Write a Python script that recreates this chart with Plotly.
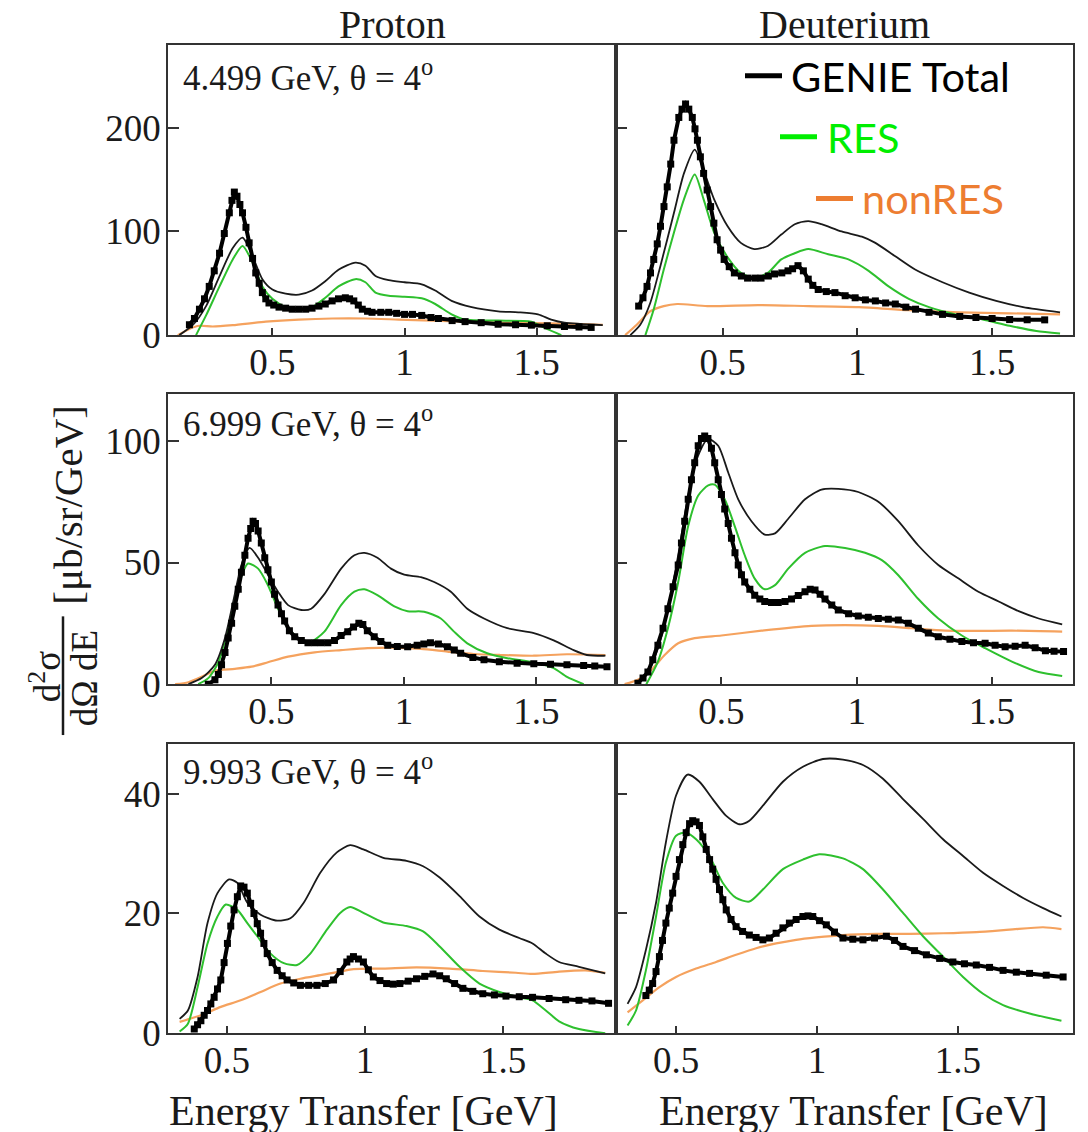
import plotly.graph_objects as go

# ---------------- data ----------------
# Row 1: 4.499 GeV
p1_data_E = [0.186,0.205,0.224,0.243,0.261,0.280,0.300,0.318,0.337,0.347,0.356,0.366,0.377,0.387,0.400,0.412,0.425,0.437,0.450,0.462,0.475,0.487,0.505,0.525,0.550,0.575,0.600,0.626,0.650,0.676,0.700,0.726,0.750,0.776,0.792,0.808,0.825,0.840,0.860,0.877,0.910,0.940,0.970,1.000,1.030,1.065,1.100,1.128,1.180,1.229,1.290,1.354,1.420,1.480,1.540,1.605,1.660,1.706]
p1_data_y = [10,16,25,35,47,62,79,98,118,130,138,134,126,118,104,89,74,60,50,41,35,31,29,27,26,25,25,25,26,28,30,33,35,36,35,33,29,25,23,22,22,22,21,20,20,19,17,16,14,13,12,10.5,10,9.6,9,8.3,7.8,7.4]
p1_tot_E = [0.148,0.200,0.249,0.300,0.350,0.387,0.425,0.462,0.500,0.550,0.600,0.650,0.700,0.750,0.814,0.852,0.890,0.940,1.000,1.065,1.116,1.178,1.254,1.354,1.430,1.505,1.555,1.605,1.750]
p1_tot_y = [0,10,28,57,84,94,76,54,44,40,39,43,52,63,70,67,57,53,51,49,43,33,27,23,22,20,15,12,9.6]
p1_res_E = [0.211,0.249,0.300,0.350,0.387,0.425,0.462,0.500,0.550,0.600,0.650,0.700,0.750,0.814,0.852,0.890,0.940,1.000,1.065,1.116,1.178,1.229,1.354,1.480,1.530,1.593]
p1_res_y = [0,19,47,73,86,70,47,35,27,25,27,36,47,54,51,41,38,37,35.5,30,20,15,14,13,7,0]
p1_non_E = [0.142,0.186,0.224,0.274,0.350,0.475,0.600,0.726,0.852,0.977,1.103,1.229,1.354,1.480,1.605,1.750]
p1_non_y = [0,6,9,8.3,9.6,13,15,16,16,15,14,13,12,11.5,11,10]

d1_data_E = [0.189,0.205,0.220,0.233,0.245,0.258,0.270,0.283,0.295,0.308,0.320,0.338,0.350,0.363,0.375,0.388,0.398,0.407,0.418,0.430,0.443,0.456,0.468,0.480,0.493,0.506,0.525,0.544,0.570,0.593,0.620,0.643,0.670,0.693,0.720,0.743,0.760,0.780,0.800,0.818,0.835,0.855,0.885,0.917,0.955,0.992,1.030,1.067,1.105,1.141,1.180,1.216,1.266,1.316,1.380,1.440,1.500,1.565,1.630,1.695]
d1_data_y = [28,36,47,60,73,88,105,124,143,165,188,210,218,223,218,210,199,188,172,156,140,124,108,92,82,73,66,60,57,55,55,55,57,59,60,62,64,67,62,54,48,44,42,41,38,36,34,33,31,30,27,25,22,20,18,17,16,15,14.8,14.7]
d1_tot_E = [0.158,0.195,0.232,0.270,0.320,0.357,0.397,0.430,0.469,0.519,0.568,0.618,0.668,0.718,0.768,0.818,0.867,0.942,1.017,1.067,1.141,1.216,1.316,1.415,1.515,1.615,1.752]
d1_tot_y = [0,10,31,67,118,156,179,159,131,105,89,83,86,97,107,110,107,100,95,89,76,63,51,41,33,27,22]
d1_res_E = [0.214,0.245,0.282,0.320,0.357,0.397,0.430,0.469,0.519,0.568,0.618,0.668,0.718,0.768,0.818,0.892,0.967,1.042,1.116,1.191,1.266,1.365,1.465,1.565,1.664,1.752]
d1_res_y = [0,25,63,99,131,155,131,99,75,60,55,60,73,79,83,78,73,62,47,35,27,20,15,9,4,1.6]
d1_non_E = [0.139,0.182,0.232,0.282,0.332,0.444,0.631,0.818,1.006,1.191,1.378,1.565,1.752]
d1_non_y = [0,10,23,28,30,28,29,28,27,24,22,21,20]

# Row 2: 6.999 GeV
p2_data_E = [0.262,0.287,0.300,0.312,0.325,0.337,0.350,0.362,0.375,0.387,0.400,0.412,0.422,0.431,0.440,0.450,0.462,0.475,0.487,0.500,0.512,0.525,0.538,0.550,0.568,0.588,0.613,0.638,0.663,0.688,0.713,0.738,0.763,0.788,0.810,0.830,0.845,0.862,0.888,0.913,0.939,0.975,1.014,1.050,1.075,1.100,1.130,1.164,1.190,1.214,1.260,1.302,1.360,1.427,1.490,1.553,1.615,1.678,1.720,1.766]
p2_data_y = [0,1.8,4,8,13,19,25,32,39,46,53,60,64,67,66,63,58,52,47,42,37,32.5,29,26,22,19.5,18,17,17,17,17,18,20,21.6,23.5,25,24.5,22,19.5,17.5,16,15.5,15.4,16,16.5,17,16.5,15.4,14,12.7,11,10,9.2,8.6,8.4,8.2,8,7.7,7.5,7.2]
p2_tot_E = [0.187,0.237,0.287,0.325,0.362,0.387,0.418,0.450,0.487,0.525,0.563,0.613,0.650,0.700,0.763,0.813,0.851,0.900,0.951,1.001,1.064,1.114,1.177,1.239,1.302,1.390,1.490,1.565,1.640,1.690,1.760]
p2_tot_y = [0,2.5,8,19,37,49,56,52,45,38,32.5,30.5,31,37,47.5,53,54,52,47.5,45,44,42,38,31,27,23,21,18,14,12,11.7]
p2_res_E = [0.224,0.262,0.300,0.337,0.375,0.412,0.450,0.487,0.525,0.563,0.613,0.650,0.700,0.763,0.813,0.851,0.900,0.964,1.014,1.076,1.139,1.189,1.239,1.314,1.390,1.490,1.565,1.615,1.678]
p2_res_y = [0,2.5,9,23,40.7,49.6,47.5,40.7,31,23,18,17.5,21.6,32.5,38,39,36.6,32,30,29.8,27,21.6,16.8,12.7,10.7,9,6.6,3,0]
p2_non_E = [0.137,0.187,0.237,0.287,0.362,0.425,0.487,0.563,0.663,0.763,0.863,0.964,1.064,1.164,1.264,1.364,1.490,1.615,1.760]
p2_non_y = [0,0.8,3,5.5,6.3,7.2,9,11.3,13.1,14,14.8,15,14.5,13.4,12.4,12,11.7,12.3,12]

d2_data_E = [0.191,0.210,0.228,0.246,0.265,0.284,0.302,0.321,0.340,0.352,0.364,0.377,0.389,0.401,0.414,0.426,0.438,0.450,0.463,0.475,0.488,0.500,0.512,0.525,0.537,0.550,0.562,0.574,0.586,0.605,0.623,0.642,0.660,0.685,0.710,0.735,0.759,0.784,0.809,0.828,0.846,0.865,0.883,0.908,0.932,0.970,1.006,1.043,1.080,1.117,1.154,1.191,1.228,1.265,1.302,1.345,1.389,1.432,1.475,1.512,1.549,1.586,1.623,1.660,1.698,1.730,1.765]
d2_data_y = [0.4,2.5,5,10,16,23,31,40,49,58,67,76,84,91,98,101,102,101,97,91,84,78,72,66,60,54,49,45,42,39,36.6,35,34,33.6,33.6,34,35,36.5,38,39,38.7,37,35,32.5,30.5,29,28,27.5,27,26.7,26.4,25,23,21,19.5,18.5,17.5,17,16.8,16,15.4,15.6,16,15,13.7,13.5,13.4]
d2_tot_E = [0.191,0.228,0.265,0.302,0.340,0.377,0.414,0.451,0.488,0.525,0.562,0.611,0.660,0.698,0.747,0.809,0.870,0.932,1.006,1.080,1.154,1.228,1.302,1.377,1.450,1.525,1.599,1.673,1.760]
d2_tot_y = [0,5,14.7,31,53,77.6,94,100.8,98,87,76,67,61.5,62,68,76,80,80.3,79,75,67,57,49,43.4,38,34,30,27,24.6]
d2_res_E = [0.222,0.265,0.302,0.340,0.377,0.414,0.451,0.475,0.512,0.549,0.586,0.623,0.660,0.698,0.747,0.809,0.883,0.957,1.031,1.093,1.154,1.228,1.302,1.389,1.475,1.574,1.673,1.760]
d2_res_y = [0,9.3,23,42,65,77.6,81.7,82,76,65,53,43.4,39,40.7,47.5,54,56.8,56,54,51,44.8,35,27,20,14.8,9.3,5,3.4]
d2_non_E = [0.142,0.191,0.241,0.290,0.340,0.401,0.500,0.648,0.833,0.957,1.080,1.204,1.327,1.450,1.574,1.760]
d2_non_y = [0,1.8,5.9,12,16.8,18.9,20,22,24,24.3,24,23,22,21.9,22,21.6]

# Row 3: 9.993 GeV
p3_data_E = [0.382,0.394,0.406,0.418,0.430,0.442,0.454,0.466,0.478,0.490,0.502,0.514,0.526,0.538,0.550,0.562,0.574,0.586,0.598,0.610,0.622,0.634,0.646,0.664,0.682,0.700,0.718,0.742,0.766,0.796,0.826,0.856,0.886,0.910,0.934,0.946,0.958,0.976,0.994,1.012,1.030,1.054,1.078,1.102,1.126,1.156,1.186,1.216,1.246,1.270,1.294,1.324,1.354,1.390,1.426,1.468,1.510,1.558,1.606,1.666,1.726,1.774,1.821,1.881]
p3_data_y = [0.7,1.4,2.1,3,3.8,4.9,6,7.4,8.9,11.8,15,17.9,20.6,22.8,24.6,24.4,23.4,21.7,20,18.3,16.7,15,13.3,11.8,10.5,9.6,8.9,8.4,8,8,8,8.3,8.9,10.3,11.9,12.4,12.8,12.4,11.9,10.6,9.4,8.8,8.3,8.2,8.3,8.7,9.1,9.5,9.9,9.6,9.1,8.3,7.5,7,6.6,6.4,6.2,6.1,6,5.8,5.6,5.5,5.4,5]
p3_tot_E = [0.329,0.359,0.394,0.430,0.466,0.508,0.538,0.574,0.622,0.682,0.730,0.778,0.838,0.898,0.946,0.994,1.066,1.150,1.210,1.270,1.342,1.414,1.486,1.558,1.606,1.654,1.702,1.774,1.869]
p3_tot_y = [2.4,3.8,9.4,18.4,23.4,25.7,25.1,21.8,19.8,18.8,19.2,21.8,26.8,30.2,31.4,30.7,29.3,28.8,27.9,26,22.9,19.5,17.3,15.9,15,13.3,11.9,11.1,10]
p3_res_E = [0.329,0.359,0.394,0.430,0.466,0.496,0.538,0.574,0.610,0.658,0.706,0.754,0.802,0.862,0.910,0.946,0.994,1.066,1.150,1.210,1.270,1.342,1.414,1.486,1.558,1.606,1.654,1.702,1.774,1.869]
p3_res_y = [0.3,1.6,7.7,15,19.5,21.5,20.6,18.4,16.2,13.3,11.7,11.4,13.3,17.3,20.1,21.1,20.1,18.5,17.9,17,14.5,11.1,8.3,6.9,6,5.5,3.8,2,0.7,0]
p3_non_E = [0.329,0.406,0.478,0.550,0.622,0.694,0.766,0.838,0.910,0.958,1.066,1.186,1.306,1.426,1.546,1.606,1.702,1.797,1.869]
p3_non_y = [1.9,3,4.4,5.5,6.9,8.3,9.1,9.7,10.3,10.7,10.8,11,10.8,10.4,10.1,9.9,10.3,10.5,10.1]

d3_data_E = [0.393,0.405,0.417,0.429,0.441,0.452,0.464,0.476,0.488,0.500,0.512,0.524,0.536,0.548,0.559,0.571,0.583,0.595,0.607,0.619,0.630,0.642,0.654,0.666,0.678,0.695,0.713,0.736,0.760,0.784,0.808,0.831,0.855,0.879,0.902,0.926,0.950,0.968,0.985,1.009,1.033,1.062,1.092,1.127,1.163,1.204,1.246,1.275,1.305,1.346,1.388,1.435,1.482,1.523,1.565,1.612,1.660,1.707,1.754,1.813,1.873]
d3_data_y = [6.3,7.2,8.3,10.3,12.8,15.5,18.4,20.9,23.4,26.2,29,31.5,33.5,35,35.5,35.3,34.7,32.8,30.7,29,27.4,25.7,24,22.3,20.6,19,17.8,17,16.4,16,15.6,15.9,16.7,17.6,18.4,19,19.5,19.6,19.5,18.8,18.1,16.9,15.9,15.7,15.6,15.9,16.2,15.5,14.5,13.8,13.1,12.5,11.9,11.6,11.4,11,10.5,10.2,10,9.7,9.4]
d3_tot_E = [0.328,0.358,0.393,0.429,0.464,0.500,0.541,0.583,0.630,0.678,0.725,0.760,0.808,0.879,0.950,1.021,1.092,1.163,1.234,1.305,1.376,1.447,1.518,1.589,1.660,1.731,1.802,1.867]
d3_tot_y = [4.9,7.7,13.9,21.8,31.9,39.7,43.2,42,39.1,36.3,34.9,35.5,38,42,44.5,45.8,45.7,44.8,42.5,39.1,35.8,32.4,29.6,26.8,24.6,22.6,20.9,19.5]
d3_res_E = [0.328,0.358,0.393,0.429,0.464,0.500,0.536,0.571,0.618,0.666,0.713,0.760,0.808,0.879,0.950,1.008,1.092,1.163,1.234,1.305,1.376,1.447,1.518,1.589,1.660,1.754,1.867]
d3_res_y = [1.3,3.8,10.5,19.5,28.5,33,33.5,32.4,29.6,25.1,22.6,22,24,27.4,29,29.9,29.2,27.4,24,20.1,16.2,12.8,9.4,6.6,4.7,3.3,2.1]
d3_non_E = [0.328,0.382,0.441,0.500,0.571,0.642,0.713,0.784,0.855,0.926,0.997,1.092,1.210,1.328,1.447,1.565,1.683,1.802,1.867]
d3_non_y = [3.5,5.5,7.7,9.4,10.8,11.9,13.1,14.2,15,15.6,16,16.4,16.6,16.6,16.7,16.9,17.3,17.7,17.4]

panel_labels = ["4.499 GeV, θ = 4<sup>o</sup>", "6.999 GeV, θ = 4<sup>o</sup>", "9.993 GeV, θ = 4<sup>o</sup>"]
column_titles = ["Proton", "Deuterium"]
x_ticks = [0.5, 1, 1.5]
x_ticktext = ["0.5", "1", "1.5"]
y_ticks_rows = [[0, 100, 200], [0, 50, 100], [0, 20, 40]]
legend_names = ["GENIE Total", "RES", "nonRES"]

# ---------------- styling ----------------
C_TOT = "#1a1a1a"
C_RES = "#2ec02e"
C_NON = "#f5a25e"
REF_W, REF_H = 1088, 1132
W, H = 1088, 1150           # the captured page is slightly compressed vertically
SERIF = "Liberation Serif"


def px(x):
    return x / REF_W


def py(y):
    return 1 - y / REF_H


panels = [
    (p1_data_E, p1_data_y, p1_tot_E, p1_tot_y, p1_res_E, p1_res_y, p1_non_E, p1_non_y),
    (d1_data_E, d1_data_y, d1_tot_E, d1_tot_y, d1_res_E, d1_res_y, d1_non_E, d1_non_y),
    (p2_data_E, p2_data_y, p2_tot_E, p2_tot_y, p2_res_E, p2_res_y, p2_non_E, p2_non_y),
    (d2_data_E, d2_data_y, d2_tot_E, d2_tot_y, d2_res_E, d2_res_y, d2_non_E, d2_non_y),
    (p3_data_E, p3_data_y, p3_tot_E, p3_tot_y, p3_res_E, p3_res_y, p3_non_E, p3_non_y),
    (d3_data_E, d3_data_y, d3_tot_E, d3_tot_y, d3_res_E, d3_res_y, d3_non_E, d3_non_y),
]

xdom = [[px(168), px(616)], [px(616), px(1073)]]
ydom = [[py(336), py(45)], [py(686), py(395)], [py(1036), py(746)]]
xranges = [[0.105, 1.8], [0.11, 1.8], [0.287, 1.908]]
yranges = [[0, 280], [0, 119.3], [0, 48.3]]

fig = go.Figure()
layout = dict(width=W, height=H, margin=dict(l=0, r=0, t=0, b=0),
              paper_bgcolor="white", plot_bgcolor="white", showlegend=False)

for i, (dE, dy, tE, ty, rE, ry, nE, ny) in enumerate(panels):
    row, col = i // 2, i % 2
    k = i + 1
    xa = "x" if k == 1 else f"x{k}"
    ya = "y" if k == 1 else f"y{k}"
    spline = dict(shape="spline", smoothing=0.7)
    fig.add_trace(go.Scatter(x=nE, y=ny, mode="lines", xaxis=xa, yaxis=ya,
                             line=dict(color=C_NON, width=2.2, **spline), cliponaxis=True))
    fig.add_trace(go.Scatter(x=rE, y=ry, mode="lines", xaxis=xa, yaxis=ya,
                             line=dict(color=C_RES, width=2, **spline), cliponaxis=True))
    fig.add_trace(go.Scatter(x=tE, y=ty, mode="lines", xaxis=xa, yaxis=ya,
                             line=dict(color=C_TOT, width=1.8, **spline), cliponaxis=True))
    fig.add_trace(go.Scatter(x=dE, y=dy, mode="lines+markers", xaxis=xa, yaxis=ya,
                             line=dict(color="black", width=4),
                             marker=dict(symbol="square", size=7, color="black"),
                             cliponaxis=True))
    axcommon = dict(showline=True, linecolor="#333", linewidth=1.6, mirror=True,
                    ticks="inside", tickcolor="#333", tickwidth=1.6,
                    showgrid=False, zeroline=False,
                    tickfont=dict(family=SERIF, size=37, color="#1a1a1a"))
    layout["xaxis" if k == 1 else f"xaxis{k}"] = dict(
        domain=xdom[col], range=xranges[row], anchor=ya,
        tickvals=x_ticks, ticktext=x_ticktext, ticklen=7, ticklabelstandoff=-6, **axcommon)
    layout["yaxis" if k == 1 else f"yaxis{k}"] = dict(
        domain=ydom[row], range=yranges[row], anchor=xa,
        tickvals=y_ticks_rows[row], ticklen=11, showticklabels=(col == 0),
        ticklabelstandoff=-2, **axcommon)

annotations = []
shapes = []
# column titles
for col, t in enumerate(column_titles):
    annotations.append(dict(text=t, x=sum(xdom[col]) / 2, y=py(25), xref="paper", yref="paper",
                            showarrow=False, font=dict(family=SERIF, size=40, color="#1a1a1a"),
                            xanchor="center", yanchor="middle"))
# panel labels
label_y = [76, 423, 772]
for r, t in enumerate(panel_labels):
    annotations.append(dict(text=t, x=px(181), y=py(label_y[r]), xref="paper", yref="paper",
                            showarrow=False, font=dict(family=SERIF, size=35, color="#1a1a1a"),
                            xanchor="left", yanchor="middle"))
# x-axis titles
for col, cx in enumerate([363, 853]):
    annotations.append(dict(text="Energy Transfer [GeV]", x=px(cx), y=py(1114),
                            xref="paper", yref="paper", showarrow=False,
                            font=dict(family=SERIF, size=42, color="#1a1a1a"),
                            xanchor="center", yanchor="middle"))
# y-axis title (fraction)
annotations.append(dict(text="d<sup>2</sup>σ", x=px(45), y=py(679), xref="paper", yref="paper",
                        showarrow=False, textangle=-90, font=dict(family=SERIF, size=37, color="#1a1a1a"),
                        xanchor="center", yanchor="middle"))
annotations.append(dict(text="dΩ dE", x=px(84), y=py(680), xref="paper", yref="paper",
                        showarrow=False, textangle=-90, font=dict(family=SERIF, size=37, color="#1a1a1a"),
                        xanchor="center", yanchor="middle"))
annotations.append(dict(text="[μb/sr/GeV]", x=px(68), y=py(506), xref="paper", yref="paper",
                        showarrow=False, textangle=-90, font=dict(family=SERIF, size=41, color="#1a1a1a"),
                        xanchor="center", yanchor="middle"))
shapes.append(dict(type="line", xref="paper", yref="paper", x0=px(63), x1=px(63),
                   y0=py(618), y1=py(737), line=dict(color="#1a1a1a", width=2.5)))

# legend (manual, inside top-right panel)
leg_colors = ["#000000", "#00ee00", "#ed7d31"]
leg_line_x = [(745, 782), (780, 817), (816, 853)]
leg_text_x = [789, 825, 860]
leg_y = [76, 137, 199]
for name, c, (lx0, lx1), tx, yy in zip(legend_names, leg_colors, leg_line_x, leg_text_x, leg_y):
    shapes.append(dict(type="line", xref="paper", yref="paper", x0=px(lx0), x1=px(lx1),
                       y0=py(yy), y1=py(yy), line=dict(color=c, width=5)))
    annotations.append(dict(text=name, x=px(tx), y=py(yy), xref="paper", yref="paper",
                            showarrow=False, font=dict(family="Lato", size=41.5, color=c),
                            xanchor="left", yanchor="middle"))

layout["annotations"] = annotations
layout["shapes"] = shapes
fig.update_layout(**layout)

# remove the default page margin so the figure starts at the window corner
page_fix = ("document.documentElement.style.margin='0';document.body.style.margin='0';"
            "document.documentElement.style.overflow='hidden';document.body.style.overflow='hidden';")
fig.write_html("out.html", post_script=page_fix, config={"displayModeBar": False})
